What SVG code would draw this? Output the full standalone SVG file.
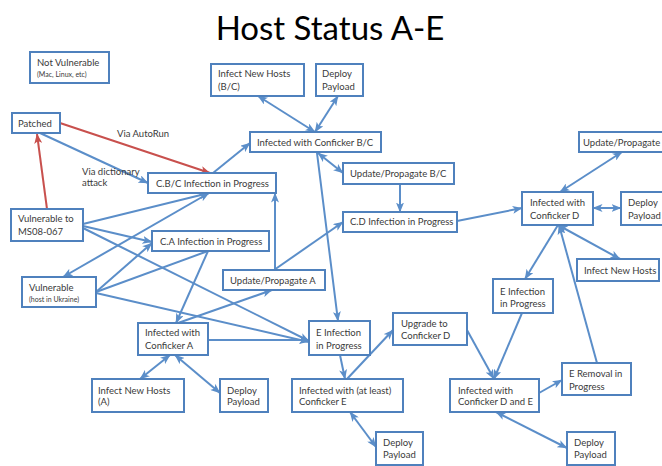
<svg xmlns="http://www.w3.org/2000/svg" width="662" height="466" viewBox="0 0 662 466">
  <style>
    .box { fill: #ffffff; stroke: #4f81bd; stroke-width: 2; }
    .t { font-family: Lato, "Open Sans", "Liberation Sans", sans-serif; font-size: 9.5px; fill: #3a3a3a; }
    .s { font-size: 7px; }
    .title { font-family: Lato, "Open Sans", "Liberation Sans", sans-serif; font-size: 33px; fill: #000000; }
    .c { stroke: #5b8ec9; stroke-width: 2; fill: none; }
    .c.one { marker-end: url(#ah); }
    .c.two { marker-start: url(#ah); marker-end: url(#ah); }
    .r { stroke: #c8504d; stroke-width: 2; fill: none; marker-end: url(#ahr); }
  </style>
  <defs>
    <marker id="ah" viewBox="0 0 10 8" refX="9.5" refY="4" markerWidth="10" markerHeight="8" markerUnits="userSpaceOnUse" orient="auto-start-reverse">
      <path d="M0,0 L10,4 L0,8 L2.5,4 z" fill="#5b8ec9"/>
    </marker>
    <marker id="ahr" viewBox="0 0 10 8" refX="9.5" refY="4" markerWidth="10" markerHeight="8" markerUnits="userSpaceOnUse" orient="auto">
      <path d="M0,0 L10,4 L0,8 L2.5,4 z" fill="#c8504d"/>
    </marker>
  </defs>

  <rect width="662" height="466" fill="#ffffff"/>
  <text class="title" x="330" y="40" text-anchor="middle">Host Status A-E</text>

  <g id="connectors">
    <!-- infection routes from the vulnerable hosts -->
    <line class="r" x1="60" y1="123" x2="210" y2="173"/>
    <line class="r" x1="47" y1="209" x2="37" y2="134"/>
    <line class="c one" x1="40" y1="133" x2="148" y2="183"/>
    <line class="c one" x1="83" y1="224" x2="209" y2="193"/>
    <line class="c one" x1="83" y1="226" x2="152" y2="242"/>
    <line class="c one" x1="83" y1="228" x2="309" y2="341"/>
    <line class="c two" x1="63" y1="277" x2="209" y2="193"/>
    <line class="c one" x1="96" y1="292" x2="152" y2="243"/>
    <line class="c" x1="96" y1="292" x2="208" y2="251"/>
    <line class="c one" x1="96" y1="293" x2="309" y2="342"/>
    <!-- Conficker B/C -->
    <line class="c one" x1="213" y1="173" x2="250" y2="143"/>
    <line class="c two" x1="315" y1="132" x2="258" y2="96"/>
    <line class="c two" x1="315" y1="132" x2="338" y2="96"/>
    <line class="c two" x1="318" y1="153" x2="343" y2="173"/>
    <line class="c one" x1="400" y1="184" x2="400" y2="212"/>
    <line class="c one" x1="317" y1="153" x2="338" y2="321"/>
    <!-- Conficker A -->
    <line class="c one" x1="208" y1="251" x2="176" y2="323"/>
    <line class="c one" x1="178" y1="323" x2="272" y2="290"/>
    <line class="c one" x1="274" y1="270" x2="343" y2="222"/>
    <line class="c one" x1="275" y1="270" x2="275" y2="193"/>
    <line class="c one" x1="208" y1="340" x2="309" y2="340"/>
    <line class="c two" x1="170" y1="355" x2="140" y2="379"/>
    <line class="c two" x1="175" y1="355" x2="220" y2="393"/>
    <!-- Conficker D -->
    <line class="c one" x1="457" y1="221" x2="522" y2="208"/>
    <line class="c two" x1="622" y1="152" x2="560" y2="192"/>
    <line class="c two" x1="593" y1="208" x2="621" y2="208"/>
    <line class="c two" x1="558" y1="225" x2="620" y2="259"/>
    <line class="c one" x1="558" y1="225" x2="525" y2="279"/>
    <line class="c one" x1="597" y1="363" x2="559" y2="225"/>
    <!-- Conficker E -->
    <line class="c one" x1="522" y1="313" x2="494" y2="379"/>
    <line class="c one" x1="467" y1="330" x2="494" y2="379"/>
    <line class="c one" x1="539" y1="393" x2="562" y2="380"/>
    <line class="c two" x1="496" y1="412" x2="567" y2="448"/>
    <line class="c one" x1="340" y1="355" x2="345" y2="379"/>
    <line class="c one" x1="347" y1="379" x2="393" y2="330"/>
    <line class="c two" x1="350" y1="412" x2="376" y2="447"/>
  </g>

  <text class="t" x="117" y="137">Via AutoRun</text>
  <text class="t" x="82" y="175">Via dictionary</text>
  <text class="t" x="82" y="186">attack</text>

  <g id="not-vulnerable">
    <rect class="box" x="30" y="52" width="79" height="31"/>
    <text class="t" x="37" y="66">Not Vulnerable</text>
    <text class="t s" x="37" y="77">(Mac, Linux, etc)</text>
  </g>
  <g id="infect-new-hosts-bc">
    <rect class="box" x="211" y="64" width="93" height="32"/>
    <text class="t" x="218" y="77">Infect New Hosts</text>
    <text class="t" x="218" y="90">(B/C)</text>
  </g>
  <g id="deploy-payload-bc">
    <rect class="box" x="316" y="64" width="47" height="32"/>
    <text class="t" x="322" y="77">Deploy</text>
    <text class="t" x="322" y="90">Payload</text>
  </g>
  <g id="patched">
    <rect class="box" x="12" y="113" width="48" height="20"/>
    <text class="t" x="18" y="127">Patched</text>
  </g>
  <g id="infected-bc">
    <rect class="box" x="250" y="132" width="131" height="20"/>
    <text class="t" x="257" y="146">Infected with Conficker B/C</text>
  </g>
  <g id="update-propagate-d">
    <rect class="box" x="579" y="132" width="92" height="20"/>
    <text class="t" x="583" y="146">Update/Propagate</text>
  </g>
  <g id="cbc-in-progress">
    <rect class="box" x="148" y="173" width="128" height="20"/>
    <text class="t" x="156" y="187">C.B/C Infection in Progress</text>
  </g>
  <g id="update-propagate-bc">
    <rect class="box" x="343" y="163" width="111" height="21"/>
    <text class="t" x="350" y="177">Update/Propagate B/C</text>
  </g>
  <g id="vulnerable-ms08-067">
    <rect class="box" x="11" y="209" width="72" height="32"/>
    <text class="t" x="18" y="222">Vulnerable to</text>
    <text class="t" x="18" y="235">MS08-067</text>
  </g>
  <g id="cd-in-progress">
    <rect class="box" x="343" y="212" width="114" height="20"/>
    <text class="t" x="350" y="225">C.D Infection in Progress</text>
  </g>
  <g id="infected-d">
    <rect class="box" x="522" y="192" width="71" height="33"/>
    <text class="t" x="530" y="206">Infected with</text>
    <text class="t" x="530" y="219">Conficker D</text>
  </g>
  <g id="deploy-payload-d">
    <rect class="box" x="621" y="192" width="50" height="33"/>
    <text class="t" x="628" y="206">Deploy</text>
    <text class="t" x="628" y="219">Payload</text>
  </g>
  <g id="ca-in-progress">
    <rect class="box" x="152" y="231" width="117" height="20"/>
    <text class="t" x="160" y="245">C.A Infection in Progress</text>
  </g>
  <g id="infect-new-hosts-d">
    <rect class="box" x="577" y="259" width="82" height="22"/>
    <text class="t" x="584" y="274">Infect New Hosts</text>
  </g>
  <g id="vulnerable-ukraine">
    <rect class="box" x="22" y="277" width="74" height="30"/>
    <text class="t" x="29" y="291">Vulnerable</text>
    <text class="t s" x="29" y="302">(host in Ukraine)</text>
  </g>
  <g id="update-propagate-a">
    <rect class="box" x="223" y="270" width="102" height="20"/>
    <text class="t" x="230" y="284">Update/Propagate A</text>
  </g>
  <g id="e-in-progress-d">
    <rect class="box" x="493" y="279" width="60" height="34"/>
    <text class="t" x="500" y="295">E Infection</text>
    <text class="t" x="500" y="307">in Progress</text>
  </g>
  <g id="upgrade-to-d">
    <rect class="box" x="393" y="313" width="74" height="32"/>
    <text class="t" x="401" y="327">Upgrade to</text>
    <text class="t" x="401" y="339">Conficker D</text>
  </g>
  <g id="e-in-progress">
    <rect class="box" x="309" y="321" width="61" height="34"/>
    <text class="t" x="316" y="336">E Infection</text>
    <text class="t" x="316" y="349">in Progress</text>
  </g>
  <g id="infected-a">
    <rect class="box" x="138" y="323" width="70" height="32"/>
    <text class="t" x="145" y="336">Infected with</text>
    <text class="t" x="145" y="349">Conficker A</text>
  </g>
  <g id="e-removal">
    <rect class="box" x="562" y="363" width="69" height="32"/>
    <text class="t" x="569" y="377">E Removal in</text>
    <text class="t" x="569" y="390">Progress</text>
  </g>
  <g id="infected-e">
    <rect class="box" x="292" y="379" width="111" height="33"/>
    <text class="t" x="299" y="394">Infected with (at least)</text>
    <text class="t" x="299" y="405">Conficker E</text>
  </g>
  <g id="infected-de">
    <rect class="box" x="450" y="379" width="89" height="33"/>
    <text class="t" x="458" y="394">Infected with</text>
    <text class="t" x="458" y="405">Conficker D and E</text>
  </g>
  <g id="infect-new-hosts-a">
    <rect class="box" x="92" y="379" width="92" height="33"/>
    <text class="t" x="98" y="394">Infect New Hosts</text>
    <text class="t" x="98" y="405">(A)</text>
  </g>
  <g id="deploy-payload-a">
    <rect class="box" x="220" y="379" width="48" height="33"/>
    <text class="t" x="227" y="394">Deploy</text>
    <text class="t" x="227" y="405">Payload</text>
  </g>
  <g id="deploy-payload-e">
    <rect class="box" x="376" y="432" width="47" height="33"/>
    <text class="t" x="383" y="446">Deploy</text>
    <text class="t" x="383" y="458">Payload</text>
  </g>
  <g id="deploy-payload-de">
    <rect class="box" x="567" y="432" width="48" height="33"/>
    <text class="t" x="574" y="446">Deploy</text>
    <text class="t" x="574" y="458">Payload</text>
  </g>
</svg>
